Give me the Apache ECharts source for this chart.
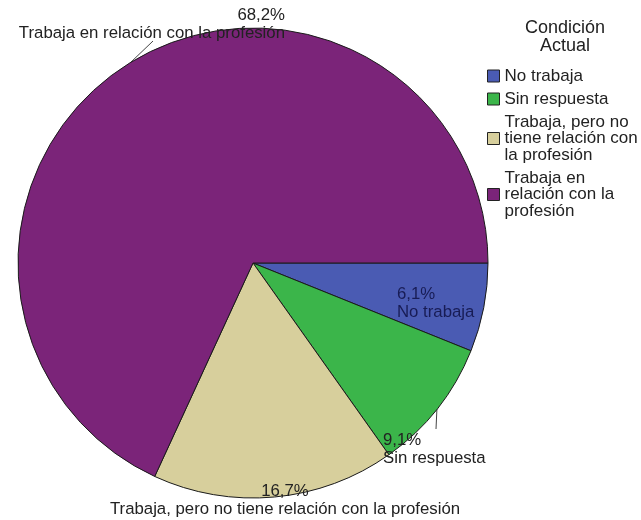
<!DOCTYPE html>
<html>
<head>
<meta charset="utf-8">
<script src="https://cdn.jsdelivr.net/npm/echarts@6/dist/echarts.min.js"></script>
<style>html,body{margin:0;padding:0;background:#fff;}#c{width:641px;height:520px;}</style>
</head>
<body>
<div id="c"></div>
<script>
const categories = ['No trabaja', 'Sin respuesta', 'Trabaja, pero no tiene relación con la profesión', 'Trabaja en relación con la profesión'];
const legendNames = ['No trabaja', 'Sin respuesta', 'Trabaja, pero no\ntiene relación con\nla profesión', 'Trabaja en\nrelación con la\nprofesión'];
const values = [6.1, 9.1, 16.7, 68.2];
const colors = ['#4a5bb3', '#3bb54a', '#d7cf9c', '#7b2479'];
const legendTitle = 'Condición\nActual';

const FONT = 'Liberation Sans, Arial, sans-serif';
const chart = echarts.init(document.getElementById('c'));

const labelPos = [
  {x: 397, y: 286, align: 'left'},
  {x: 383, y: 432, align: 'left'},
  {x: 285, y: 483, align: 'center'},
  {x: 285, y: 7, align: 'right'}
];
const linePts = [
  null,
  [[437, 407], [436, 429], [436, 429]],
  null,
  [[130, 63], [153, 41], [153, 41]]
];

chart.setOption({
  animation: false,
  title: {
    text: legendTitle,
    left: 560, top: 14, textAlign: 'center',
    textStyle: {fontFamily: FONT, fontSize: 18, fontWeight: 'normal', color: '#222', lineHeight: 18}
  },
  legend: {
    orient: 'vertical', left: 487, top: 67.5, padding: 0,
    itemWidth: 12, itemHeight: 12, itemGap: 6,
    icon: 'rect',
    itemStyle: {borderColor: '#222', borderWidth: 1},
    data: categories,
    formatter: function (n) { return legendNames[categories.indexOf(n)]; },
    textStyle: {fontFamily: FONT, fontSize: 17, lineHeight: 16.5, color: '#222'}
  },
  series: [{
    type: 'pie',
    center: [253, 263],
    radius: 235,
    startAngle: 0,
    clockwise: true,
    avoidLabelOverlap: false,
    itemStyle: {borderColor: '#1a1a1a', borderWidth: 1},
    label: {
      show: true, position: 'outside',
      fontFamily: FONT, fontSize: 16.8, lineHeight: 17.5, color: '#222',
      formatter: function (p) { return String(p.value).replace('.', ',') + '%\n' + p.name; }
    },
    labelLine: {show: true, lineStyle: {color: '#444', width: 1}},
    labelLayout: function (p) {
      const o = labelPos[p.dataIndex];
      const r = {x: o.x, y: o.y, align: o.align, verticalAlign: 'top'};
      if (linePts[p.dataIndex]) r.labelLinePoints = linePts[p.dataIndex];
      return r;
    },
    data: categories.map(function (c, i) {
      const d = {name: c, value: values[i], itemStyle: {color: colors[i]}};
      if (i === 0) { d.labelLine = {show: false}; d.label = {color: '#181c55'}; }
      if (i === 2) { d.labelLine = {show: false}; }
      return d;
    })
  }]
});
</script>
</body>
</html>
